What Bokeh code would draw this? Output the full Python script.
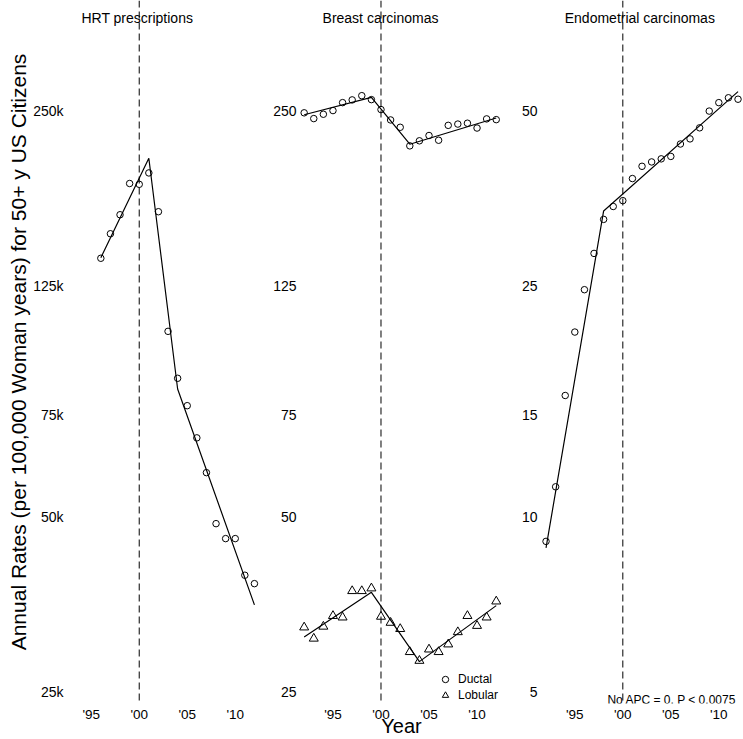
from bokeh.plotting import figure
from bokeh.layouts import row
from bokeh.models import Span, Label, FixedTicker, Legend, LegendItem, Range1d
from bokeh.embed import file_html
from bokeh.resources import INLINE

FONT = "Liberation Sans"

# ---------------- data ----------------
hrt_years = list(range(1996, 2013))
hrt_rates = [139300, 153500, 165500, 187300, 186700, 195300, 167500, 104300, 86600,
             77700, 68400, 59600, 48700, 45900, 45900, 39700, 38400]
hrt_fit_years = [1996, 2001, 2004, 2012]
hrt_fit_rates = [139600, 207000, 83000, 35300]

ca_years = list(range(1992, 2013))
ductal = [247.8, 242.2, 246.4, 250.0, 258.0, 260.8, 265.2, 261.1, 251.0, 240.9, 234.0,
          217.4, 221.8, 226.5, 222.3, 235.8, 237.0, 237.8, 233.3, 241.9, 241.2]
ductal_fit_years = [1992, 1999, 2003, 2012]
ductal_fit = [245.9, 263.4, 218.8, 242.8]
lobular = [32.3, 30.9, 32.4, 33.8, 33.6, 37.3, 37.3, 37.7, 33.7, 32.9, 32.1,
           29.3, 28.3, 29.6, 29.3, 30.2, 31.7, 33.8, 32.5, 33.6, 35.8]
lobular_fit_years = [1992, 1999, 2004, 2012]
lobular_fit = [31.1, 37.1, 28.2, 35.2]

endo = [9.08, 11.27, 16.18, 20.8, 24.6, 28.4, 32.5, 34.2, 35.0, 38.2, 40.1,
        40.8, 41.3, 41.7, 43.8, 44.7, 46.7, 49.9, 51.6, 52.6, 52.3]
endo_fit_years = [1992, 1998, 2012]
endo_fit = [8.85, 33.6, 53.9]

x_ticks = [1995, 2000, 2005, 2010]
x_tick_labels = ["'95", "'00", "'05", "'10"]
hrt_ticks = [25000, 50000, 75000, 125000, 250000]
hrt_tick_labels = ["25k", "50k", "75k", "125k", "250k"]
breast_ticks = [25, 50, 75, 125, 250]
breast_tick_labels = ["25", "50", "75", "125", "250"]
endo_ticks = [5, 10, 15, 25, 50]
endo_tick_labels = ["5", "10", "15", "25", "50"]

titles = ["HRT prescriptions", "Breast carcinomas", "Endometrial carcinomas"]
split_year = 2000

H = 739
BORDER_BOTTOM = 36


def make_panel(width, border_left, xr, yr, yticks, ylabels, title, title_x):
    p = figure(width=width, height=H, y_axis_type="log",
               x_range=Range1d(*xr), y_range=Range1d(*yr),
               output_backend="svg", toolbar_location=None,
               min_border_left=border_left, min_border_right=0,
               min_border_top=0, min_border_bottom=BORDER_BOTTOM)
    p.outline_line_color = None
    p.grid.visible = False
    p.background_fill_color = "white"
    p.border_fill_color = "white"
    for ax in (p.xaxis, p.yaxis):
        ax.axis_line_color = None
        ax.major_tick_line_color = None
        ax.minor_tick_line_color = None
        ax.major_tick_out = 0
        ax.major_tick_in = 0
        ax.major_label_text_font = FONT
        ax.major_label_text_color = "black"
    p.xaxis.ticker = FixedTicker(ticks=x_ticks)
    p.xaxis.major_label_overrides = dict(zip(x_ticks, x_tick_labels))
    p.xaxis.major_label_text_font_size = "13.5px"
    p.xaxis.major_label_standoff = 3
    p.yaxis.ticker = FixedTicker(ticks=yticks)
    p.yaxis.major_label_overrides = dict(zip(yticks, ylabels))
    p.yaxis.major_label_text_font_size = "14px"
    p.yaxis.major_label_standoff = 2
    p.add_layout(Span(location=split_year, dimension="height", line_color="black",
                      line_width=1, line_dash="7 4"))
    p.add_layout(Label(x=title_x, y=yr[1] * 2 ** (-17 / 175), text=title,
                       text_align="center", text_baseline="middle",
                       text_font=FONT, text_font_size="14px", text_color="black"))
    return p


p1 = make_panel(262, 65, (1992.32, 2012.84), (23890, 386600),
                hrt_ticks, hrt_tick_labels, titles[0], 1999.8)
p1.yaxis.axis_label = "Annual Rates (per 100,000 Woman years) for 50+ y US Citizens"
p1.yaxis.axis_label_text_font = FONT
p1.yaxis.axis_label_text_font_size = "21px"
p1.yaxis.axis_label_text_font_style = "normal"
p1.yaxis.axis_label_text_color = "black"
p1.yaxis.axis_label_standoff = 0
p1.line(hrt_fit_years, hrt_fit_rates, line_color="black", line_width=1.2)
p1.scatter(hrt_years, hrt_rates, marker="circle", size=6.5, fill_color=None,
           line_color="black", line_width=1)

p2 = make_panel(242, 36, (1991.41, 2012.86), (23.89, 386.6),
                breast_ticks, breast_tick_labels, titles[1], 1999.95)
p2.xaxis.axis_label = "Year"
p2.xaxis.axis_label_text_font = FONT
p2.xaxis.axis_label_text_font_size = "20px"
p2.xaxis.axis_label_text_font_style = "normal"
p2.xaxis.axis_label_text_color = "black"
p2.xaxis.axis_label_standoff = -10
p2.line(ductal_fit_years, ductal_fit, line_color="black", line_width=1.2)
p2.line(lobular_fit_years, lobular_fit, line_color="black", line_width=1.2)
r_d = p2.scatter(ca_years, ductal, marker="circle", size=6.5, fill_color=None,
                 line_color="black", line_width=1)
r_l = p2.scatter(ca_years, lobular, marker="triangle", size=9, fill_color=None,
                 line_color="black", line_width=1)
legend = Legend(items=[LegendItem(label="Ductal", renderers=[r_d]),
                       LegendItem(label="Lobular", renderers=[r_l])],
                location=(139, 0), border_line_color=None, background_fill_alpha=0,
                label_text_font=FONT, label_text_font_size="12px",
                label_text_color="black",
                glyph_width=16, glyph_height=16, label_height=16, spacing=0,
                padding=0, margin=0, label_standoff=5)
p2.add_layout(legend)

p3 = make_panel(239, 35, (1991.32, 2012.57), (4.778, 77.32),
                endo_ticks, endo_tick_labels, titles[2], 2001.77)
p3.line(endo_fit_years, endo_fit, line_color="black", line_width=1.2)
p3.scatter(ca_years, endo, marker="circle", size=6.5, fill_color=None,
           line_color="black", line_width=1)
p3.add_layout(Label(x=2011.81, y=4.84, text="No APC = 0, P < 0.0075",
                    text_align="right", text_baseline="middle", text_font=FONT,
                    text_font_size="12px", text_color="black"))

layout = row(p1, p2, p3)
open("out.html", "w").write(file_html(layout, INLINE))
